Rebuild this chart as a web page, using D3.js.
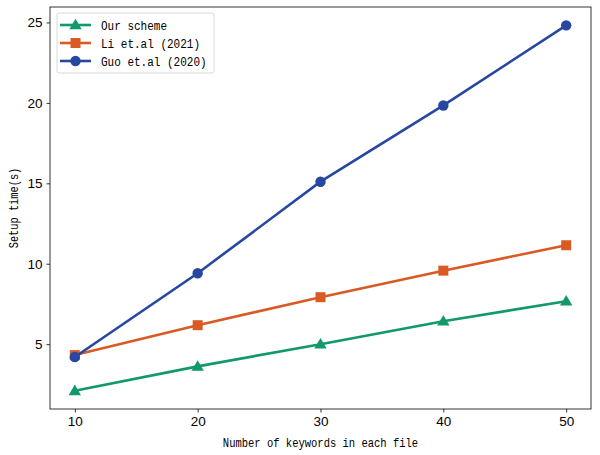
<!DOCTYPE html>
<html>
<head>
<meta charset="utf-8">
<script src="https://cdn.jsdelivr.net/npm/d3@7"></script>
<style>
  body { margin: 0; background: #fff; }
  .tick text { font-family: "Liberation Sans", Arial, sans-serif; font-size: 13.5px; fill: #000; }
  .lbl { font-family: "Liberation Mono", "DejaVu Sans Mono", monospace; fill: #000; }
</style>
</head>
<body>
<div id="chart"></div>
<script>
var keywords = [10, 20, 30, 40, 50];
var ourScheme = [2.1, 3.62, 5.0, 6.43, 7.67];
var li2021 = [4.32, 6.18, 7.92, 9.57, 11.15];
var guo2020 = [4.2, 9.41, 15.1, 19.84, 24.82];
var yTicks = [5, 10, 15, 20, 25];

var series = [
  {name: "Our scheme", values: ourScheme, color: "#12996b", marker: "triangle"},
  {name: "Li et.al (2021)", values: li2021, color: "#d95a22", marker: "square"},
  {name: "Guo et.al (2020)", values: guo2020, color: "#2747a1", marker: "circle"}
];

var width = 600, height = 455;
var m = {top: 7, right: 9, bottom: 46, left: 50};
var w = width - m.left - m.right;
var h = height - m.top - m.bottom;

var svg = d3.select("#chart").append("svg")
  .attr("width", width)
  .attr("height", height);

var g = svg.append("g").attr("transform", "translate(" + m.left + "," + m.top + ")");

var x = d3.scaleLinear().domain([7.98, 52.02]).range([0, w]);
var y = d3.scaleLinear().domain([0.97, 25.96]).range([h, 0]);

var xAxis = g.append("g")
  .attr("transform", "translate(0," + h + ")")
  .call(d3.axisBottom(x).tickValues(keywords).tickSize(3.5).tickPadding(4));
var yAxis = g.append("g")
  .call(d3.axisLeft(y).tickValues(yTicks).tickSize(3.5).tickPadding(4));
[xAxis, yAxis].forEach(function(a) {
  a.select(".domain").remove();
  a.selectAll(".tick line").attr("stroke", "#000").attr("stroke-width", 0.8);
});

g.append("rect")
  .attr("width", w).attr("height", h)
  .attr("fill", "none").attr("stroke", "#000").attr("stroke-width", 0.8);

function drawMarker(sel, type, cx, cy, color) {
  if (type === "circle") {
    sel.append("circle").attr("cx", cx).attr("cy", cy).attr("r", 5.2).attr("fill", color);
  } else if (type === "square") {
    sel.append("rect").attr("x", cx - 5).attr("y", cy - 5).attr("width", 10).attr("height", 10).attr("fill", color);
  } else {
    var s = 6.2;
    sel.append("path")
      .attr("d", "M" + cx + "," + (cy - s) + "L" + (cx + s) + "," + (cy + s * 0.7) + "L" + (cx - s) + "," + (cy + s * 0.7) + "Z")
      .attr("fill", color);
  }
}

var line = d3.line().x(function(d, i) { return x(keywords[i]); }).y(function(d) { return y(d); });

series.forEach(function(s) {
  var sg = g.append("g");
  sg.append("path").datum(s.values)
    .attr("d", line).attr("fill", "none")
    .attr("stroke", s.color).attr("stroke-width", 2.6);
  s.values.forEach(function(v, i) {
    drawMarker(sg, s.marker, x(keywords[i]), y(v), s.color);
  });
});

// legend
var lg = g.append("g").attr("transform", "translate(7,6)");
lg.append("rect")
  .attr("width", 157).attr("height", 60).attr("rx", 2)
  .attr("fill", "#fff").attr("fill-opacity", 0.8)
  .attr("stroke", "#d0d0d0").attr("stroke-width", 0.8);
series.forEach(function(s, i) {
  var yy = 12 + i * 18;
  lg.append("line").attr("x1", 3).attr("x2", 34).attr("y1", yy).attr("y2", yy)
    .attr("stroke", s.color).attr("stroke-width", 2.6);
  drawMarker(lg, s.marker, 18.5, yy, s.color);
  lg.append("text").attr("class", "lbl")
    .attr("x", 44).attr("y", yy + 4.5)
    .attr("font-size", 12.5)
    .attr("textLength", s.name.length * 6.6).attr("lengthAdjust", "spacingAndGlyphs")
    .text(s.name);
});

var xl = "Number of keywords in each file";
svg.append("text").attr("class", "lbl")
  .attr("x", m.left + w / 2).attr("y", 447)
  .attr("text-anchor", "middle").attr("font-size", 12.5)
  .attr("textLength", xl.length * 6.3).attr("lengthAdjust", "spacingAndGlyphs")
  .text(xl);

var yl = "Setup time(s)";
svg.append("text").attr("class", "lbl")
  .attr("transform", "translate(18," + (m.top + h / 2) + ") rotate(-90)")
  .attr("text-anchor", "middle").attr("font-size", 12.5)
  .attr("textLength", yl.length * 6.2).attr("lengthAdjust", "spacingAndGlyphs")
  .text(yl);
</script>
</body>
</html>
